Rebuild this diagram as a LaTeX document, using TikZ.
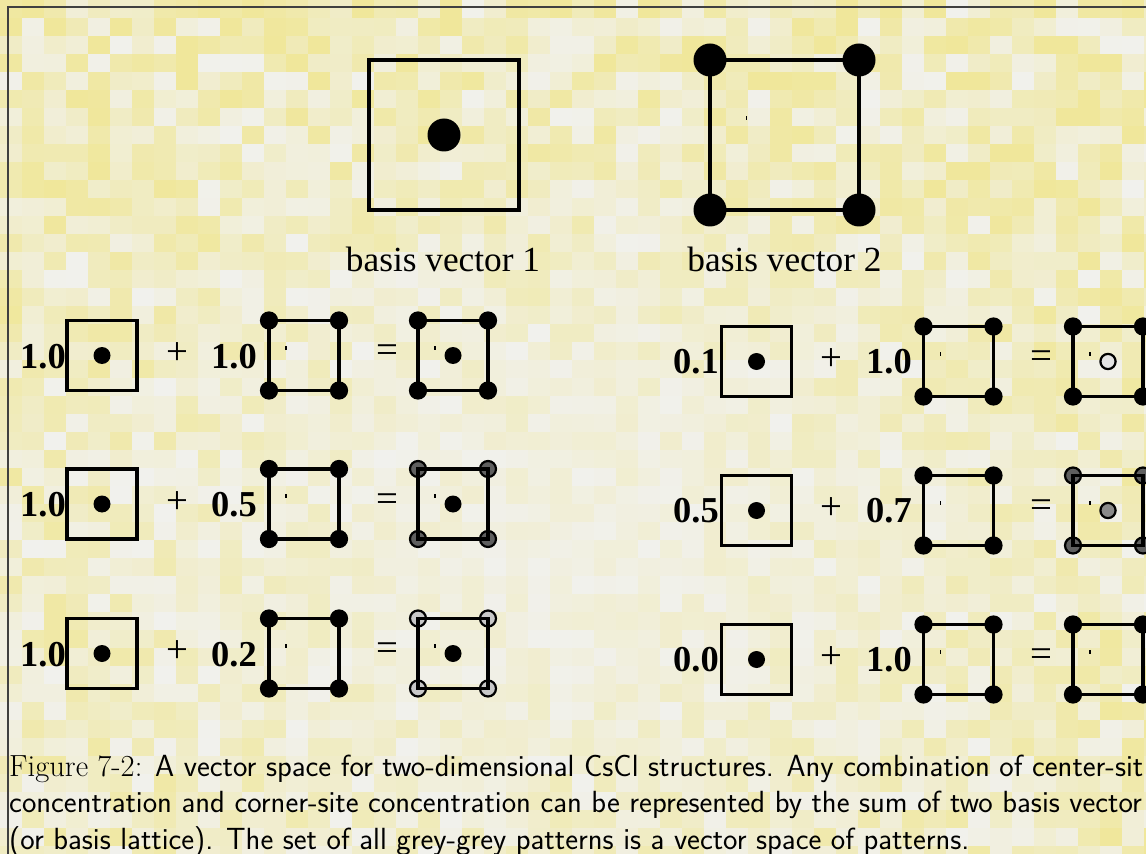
\documentclass[tikz,border=0pt]{standalone}
\usepackage{fontspec}
\newfontfamily\tnr{Liberation Serif}
\definecolor{bgY}{RGB}{240,231,155}
\definecolor{bgW}{RGB}{241,241,237}
\definecolor{gDark}{RGB}{95,95,95}
\definecolor{gLight}{RGB}{200,200,200}
\definecolor{gMid}{RGB}{138,138,138}
\definecolor{gPale}{RGB}{228,228,228}
\tikzset{
  bx/.style={line width=2.8pt, line join=miter},
  lbl/.style={font=\fontsize{30pt}{32pt}\tnr, inner sep=0pt},
  num/.style={font=\fontsize{31pt}{33pt}\tnr\bfseries, inner sep=0pt},
  op/.style={font=\fontsize{33pt}{35pt}\tnr, inner sep=0pt},
  captxt/.style={font=\fontsize{26pt}{30pt}\sffamily, inner sep=0pt},
  pics/centerbox/.style={code={
     \draw[bx] (-35,-35) rectangle (35,35);
     \fill (0,0) circle (8.5);}},
  pics/latbox/.style={code={
     \foreach \sx in {-35,35}{\foreach \sy in {-35,35}{
        \filldraw[fill=#1, draw=black, line width=1.9pt] (\sx,\sy) circle (8);}}
     \draw[bx] (-35,-35) rectangle (35,35);
     \fill (-18.6,-10) rectangle (-17.4,-6);}},
}
\begin{document}
\begin{tikzpicture}[x=0.85pt,y=-0.85pt]
\useasboundingbox (0,0) rectangle (1146,854);
\clip (0,0) rectangle (1146,854);
% pixelated background
\pgfmathsetseed{11}
\foreach \i in {0,...,52}{
  \foreach \j in {0,...,47}{
    \pgfmathsetmacro\dx{(\i*22-560)/600}
    \pgfmathsetmacro\dy{(\j*18-540)/450}
    \pgfmathsetmacro\t{min(100,100*rnd*(0.2+0.8*sqrt(\dx*\dx+\dy*\dy)))}
    \fill[bgY!\t!bgW] (\i*22,\j*18) rectangle ++(22.6,18.6);
  }
}
% frame
\draw[line width=1.2pt, black!75] (8,860) -- (8,7) -- (1150,7);
% basis vector 1
\draw[bx] (369,60) rectangle (519,210);
\fill (444,135) circle (16.5);
\node[lbl, anchor=base] (bv1) at (443,272) {basis vector 1};
% basis vector 2
\draw[bx] (710,60) rectangle (859,210);
\foreach \p in {(710,60),(859,60),(710,210),(859,210)} \fill \p circle (16.5);
\fill (745.6,116) rectangle (746.6,120);
\node[lbl, anchor=base] (bv2) at (784.5,272) {basis vector 2};
% left column
\foreach \cy/\a/\b/\cf [count=\k] in {355.5/1.0/1.0/black, 504/1.0/0.5/gDark, 653.5/1.0/0.2/gLight}{
  \node[num, anchor=base west] (la\k) at (20,\cy+12.5) {\a};
  \pic at (102,\cy) {centerbox};
  \node[op] (lp\k) at (177,\cy-1.5) {+};
  \node[num, anchor=base west] (lb\k) at (211,\cy+12.5) {\b};
  \pic at (304,\cy) {latbox=black};
  \node[op] (le\k) at (387,\cy-1.5) {=};
  \pic at (453,\cy) {latbox=\cf};
  \fill (453,\cy) circle (8.5);
}
% right column
\foreach \cy/\a/\b/\cf/\mf/\md [count=\k] in {361.5/0.1/1.0/black/gPale/black, 510.5/0.5/0.7/gDark/gMid/black, 659.5/0.0/1.0/black/none/none}{
  \node[num, anchor=base west] (ra\k) at (673,\cy+12) {\a};
  \pic at (756.5,\cy) {centerbox};
  \node[op] (rp\k) at (831,\cy-1.5) {+};
  \node[num, anchor=base west] (rb\k) at (866,\cy+12) {\b};
  \pic at (958.5,\cy) {latbox=black};
  \node[op] (re\k) at (1041,\cy-2) {=};
  \pic at (1108,\cy) {latbox=\cf};
  \filldraw[fill=\mf, draw=\md, line width=1.9pt] (1108,\cy) circle (7.6);
}
% caption
\node[captxt, anchor=base west] (cap1) at (9,776) {{\rmfamily Figure 7-2:} A vector space for two-dimensional CsCl structures. Any combination of center-sit};
\node[captxt, anchor=base west] (cap2) at (9,812.5) {concentration and corner-site concentration can be represented by the sum of two basis vector};
\node[captxt, anchor=base west] (cap3) at (9,849) {(or basis lattice). The set of all grey-grey patterns is a vector space of patterns.};
\end{tikzpicture}
\end{document}
